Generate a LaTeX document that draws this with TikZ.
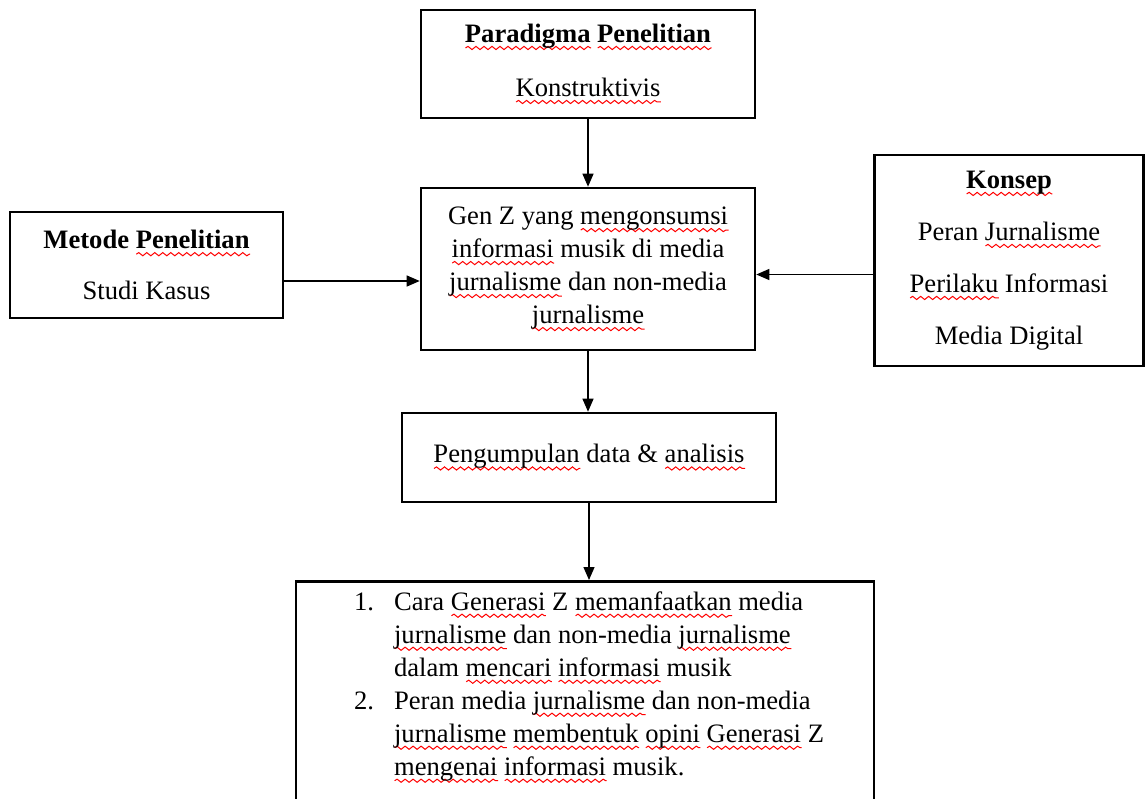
\documentclass[tikz,border=0pt]{standalone}
\usepackage{fontspec}
\setmainfont{Liberation Serif}
\usetikzlibrary{arrows.meta,decorations.pathmorphing}

% red wavy underline as in the original
\newsavebox\sqbox
\newcommand\sq[1]{\sbox\sqbox{#1}\rlap{\tikz[baseline=0pt,x=1pt,y=1pt]\draw[red,line width=0.5pt,decorate,decoration={snake,amplitude=0.8pt,segment length=4pt}] (0,-2.8) -- (\the\wd\sqbox,-2.8);}#1}

\tikzset{
  kotak/.style={draw, line width=1.3pt, align=center, inner sep=0pt},
  panah/.style={-{Triangle[length=6.5pt,width=5.5pt]}, line width=0.6pt}
}

\begin{document}
\begin{tikzpicture}[x=0.5pt,y=-0.5pt,font=\fontsize{13.3}{16.5}\selectfont]
  \useasboundingbox (0,0) rectangle (1145,798);
  \clip (0,0) rectangle (1145,798);

  \node[kotak, minimum width=167pt, minimum height=54pt] (paradigma) at (588,64)
    {\textbf{\sq{Paradigma} \sq{Penelitian}}\\[10.5pt]\sq{Konstruktivis}};
  \node[kotak, minimum width=167pt, minimum height=81pt] (gen) at (588,269)
    {Gen Z yang \sq{mengonsumsi}\\ \sq{informasi} musik di media\\ \sq{jurnalisme} dan non-media\\ \sq{jurnalisme}};
  \node[kotak, minimum width=136.5pt, minimum height=53pt] (metode) at (146.5,265)
    {\textbf{Metode \sq{Penelitian}}\\[9pt]Studi Kasus};
  \node[kotak, minimum width=134.5pt, minimum height=105.5pt] (konsep) at (1009,260.5)
    {\textbf{\sq{Konsep}}\\[9.5pt]Peran \sq{Jurnalisme}\\[9.5pt]\sq{Perilaku} Informasi\\[9.5pt]Media Digital};
  \node[kotak, minimum width=187pt, minimum height=44.5pt] (kumpul) at (589,457.5)
    {\sq{Pengumpulan} data \& \sq{analisis}};
  \node[kotak, anchor=north, minimum width=289pt, minimum height=130pt] (hasil) at (585,580) {};
  \node[align=left, inner sep=0pt, anchor=north west] (daftar) at ([xshift=29.5pt,yshift=-5.5pt]hasil.north west)
    {\makebox[20pt][l]{1.}Cara \sq{Generasi} Z \sq{memanfaatkan} media\\
     \hspace*{20pt}\sq{jurnalisme} dan non-media \sq{jurnalisme}\\
     \hspace*{20pt}dalam \sq{mencari} \sq{informasi} musik\\
     \makebox[20pt][l]{2.}Peran media \sq{jurnalisme} dan non-media\\
     \hspace*{20pt}\sq{jurnalisme} \sq{membentuk} \sq{opini} \sq{Generasi} Z\\
     \hspace*{20pt}\sq{mengenai} \sq{informasi} musik.};

  \draw[panah] (paradigma) -- (gen);
  \draw[panah] ([yshift=-8pt]metode.east) -- ([yshift=-8pt]metode.east -| gen.west);
  \draw[panah] ([yshift=-7pt]konsep.west) -- ([yshift=-7pt]konsep.west -| gen.east);
  \draw[panah] (gen.south) -- (gen.south |- kumpul.north);
  \draw[panah] (kumpul.south) -- (kumpul.south |- hasil.north);
\end{tikzpicture}
\end{document}
